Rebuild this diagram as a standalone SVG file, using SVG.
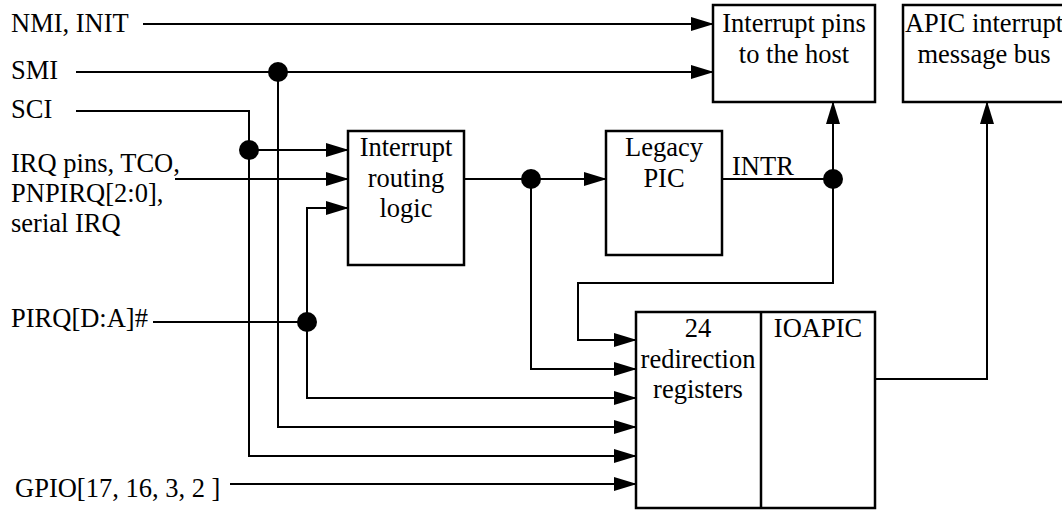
<svg xmlns="http://www.w3.org/2000/svg" width="1062" height="510" viewBox="0 0 1062 510">
<style>
text{font-family:"Liberation Serif","Times New Roman",serif;font-size:26.5px;fill:#000}
.c{text-anchor:middle}
.box{fill:#fff;stroke:#000;stroke-width:2.5}
.w{fill:none;stroke:#000;stroke-width:2}
.a{marker-end:url(#ah)}
.dot{fill:#000}
</style>
<defs>
<marker id="ah" markerUnits="userSpaceOnUse" viewBox="0 0 23 14" markerWidth="23" markerHeight="14" refX="22" refY="7" orient="auto" overflow="visible">
<path d="M0,0 L23,7 L0,14 z" fill="#000"/>
</marker>
</defs>
<rect width="1062" height="510" fill="#fff"/>
<g id="labels">
<text x="11" y="32">NMI, INIT</text>
<text x="11" y="79">SMI</text>
<text x="11" y="118">SCI</text>
<text x="11" y="172">IRQ pins, TCO,</text>
<text x="11" y="202">PNPIRQ[2:0],</text>
<text x="11" y="232">serial IRQ</text>
<text x="11" y="327">PIRQ[D:A]#</text>
<text x="15" y="497">GPIO[17, 16, 3, 2 ]</text>
<text x="732" y="175">INTR</text>
</g>
<g id="connectors">
<path class="w a" d="M143,24 H713"/>
<path class="w a" d="M76,72 H713"/>
<path class="w a" d="M278,72 V427 H636"/>
<path class="w a" d="M76,111 H249 V456 H636"/>
<path class="w a" d="M249,150 H348"/>
<path class="w a" d="M175,179 H348"/>
<path class="w" d="M153,322 H307"/>
<path class="w a" d="M307,322 V208 H348"/>
<path class="w a" d="M307,322 V398 H636"/>
<path class="w a" d="M464,179 H606"/>
<path class="w a" d="M531,179 V369 H636"/>
<path class="w" d="M722,179 H833"/>
<path class="w a" d="M833,179 V102"/>
<path class="w a" d="M833,179 V283 H578 V340 H636"/>
<path class="w a" d="M230,484 H636"/>
<path class="w a" d="M875,379 H987 V102"/>
<circle class="dot" cx="278" cy="72" r="10"/>
<circle class="dot" cx="249" cy="150" r="10"/>
<circle class="dot" cx="307" cy="322" r="10"/>
<circle class="dot" cx="531" cy="179" r="10"/>
<circle class="dot" cx="833" cy="179" r="10"/>
</g>
<g id="host-pins">
<rect class="box" x="713" y="5" width="162" height="97"/>
<text class="c" x="794" y="32">Interrupt pins</text>
<text class="c" x="794" y="63">to the host</text>
</g>
<g id="apic-bus">
<rect class="box" x="903" y="5" width="164" height="97"/>
<text class="c" x="984" y="32">APIC interrupt</text>
<text class="c" x="984" y="63">message bus</text>
</g>
<g id="routing">
<rect class="box" x="348" y="131" width="116" height="134"/>
<text class="c" x="406" y="156">Interrupt</text>
<text class="c" x="406" y="187">routing</text>
<text class="c" x="406" y="217">logic</text>
</g>
<g id="legacy-pic">
<rect class="box" x="606" y="131" width="116" height="124"/>
<text class="c" x="664" y="156">Legacy</text>
<text class="c" x="664" y="187">PIC</text>
</g>
<g id="ioapic">
<rect class="box" x="636" y="312" width="239" height="196"/>
<line x1="761" y1="312" x2="761" y2="508" stroke="#000" stroke-width="2.5"/>
<text class="c" x="698" y="337">24</text>
<text class="c" x="698" y="368">redirection</text>
<text class="c" x="698" y="398">registers</text>
<text class="c" x="818" y="337">IOAPIC</text>
</g>
</svg>
